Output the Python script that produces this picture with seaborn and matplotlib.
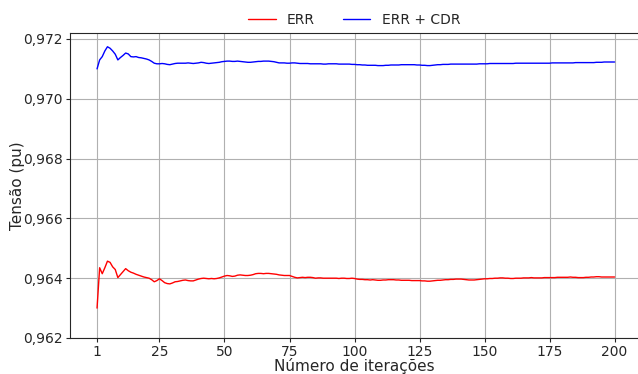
import numpy as np
import pandas as pd
import matplotlib
matplotlib.use("Agg")
import matplotlib.pyplot as plt
from matplotlib.ticker import FuncFormatter
import seaborn as sns

# Tensão na barra ao longo das iterações
err = [
    0.96300, 0.96435, 0.96415, 0.96435, 0.96457, 0.96453, 0.96438, 0.96429, 0.96402, 0.96412,
    0.96422, 0.96432, 0.96425, 0.96420, 0.96417, 0.96413, 0.96410, 0.96407, 0.96404, 0.96402,
    0.96400, 0.96395, 0.96388, 0.96392, 0.96398, 0.96392, 0.96385, 0.96382, 0.96381, 0.96384,
    0.96388, 0.96389, 0.96391, 0.96393, 0.96394, 0.96392, 0.96391, 0.96391, 0.96394, 0.96397,
    0.96399, 0.96400, 0.96399, 0.96398, 0.96399, 0.96398, 0.96399, 0.96401, 0.96404, 0.96407,
    0.96409, 0.96408, 0.96406, 0.96407, 0.96410, 0.96411, 0.96410, 0.96409, 0.96409, 0.96410,
    0.96412, 0.96415, 0.96416, 0.96416, 0.96415, 0.96416, 0.96416, 0.96415, 0.96414, 0.96413,
    0.96411, 0.96410, 0.96409, 0.96409, 0.96409, 0.96406, 0.96403, 0.96401, 0.96402, 0.96403,
    0.96402, 0.96403, 0.96403, 0.96402, 0.96400, 0.96401, 0.96401, 0.96400, 0.96400, 0.96400,
    0.96400, 0.96400, 0.96400, 0.96399, 0.96400, 0.96400, 0.96399, 0.96399, 0.96400, 0.96399,
    0.96397, 0.96396, 0.96396, 0.96395, 0.96395, 0.96394, 0.96395, 0.96394, 0.96393, 0.96393,
    0.96394, 0.96394, 0.96395, 0.96395, 0.96395, 0.96394, 0.96394, 0.96393, 0.96393, 0.96393,
    0.96393, 0.96392, 0.96392, 0.96392, 0.96392, 0.96391, 0.96391, 0.96390, 0.96390, 0.96391,
    0.96392, 0.96393, 0.96393, 0.96394, 0.96395, 0.96395, 0.96396, 0.96396, 0.96397, 0.96397,
    0.96397, 0.96396, 0.96395, 0.96394, 0.96394, 0.96394, 0.96395, 0.96396, 0.96397, 0.96398,
    0.96398, 0.96399, 0.96399, 0.96400, 0.96400, 0.96401, 0.96401, 0.96400, 0.96400, 0.96399,
    0.96399, 0.96400, 0.96400, 0.96400, 0.96401, 0.96401, 0.96401, 0.96402, 0.96401, 0.96401,
    0.96401, 0.96401, 0.96402, 0.96402, 0.96402, 0.96402, 0.96402, 0.96403, 0.96403, 0.96403,
    0.96403, 0.96403, 0.96404, 0.96403, 0.96403, 0.96402, 0.96402, 0.96402, 0.96403, 0.96403,
    0.96404, 0.96404, 0.96405, 0.96405, 0.96404, 0.96404, 0.96404, 0.96404, 0.96404, 0.96404,
]

err_cdr = [
    0.97100, 0.97130, 0.97141, 0.97160, 0.97174, 0.97169, 0.97160, 0.97149, 0.97130, 0.97138,
    0.97145, 0.97153, 0.97150, 0.97141, 0.97140, 0.97141, 0.97138, 0.97137, 0.97135, 0.97133,
    0.97130, 0.97125, 0.97119, 0.97117, 0.97117, 0.97118, 0.97117, 0.97115, 0.97114, 0.97116,
    0.97118, 0.97119, 0.97119, 0.97119, 0.97119, 0.97120, 0.97119, 0.97118, 0.97119, 0.97120,
    0.97122, 0.97121, 0.97119, 0.97118, 0.97119, 0.97120, 0.97121, 0.97122, 0.97124, 0.97125,
    0.97126, 0.97126, 0.97125, 0.97125, 0.97126, 0.97125, 0.97124, 0.97123, 0.97122, 0.97122,
    0.97123, 0.97124, 0.97125, 0.97125, 0.97126, 0.97126, 0.97126, 0.97125, 0.97124, 0.97122,
    0.97120, 0.97120, 0.97120, 0.97119, 0.97119, 0.97120, 0.97120, 0.97119, 0.97118, 0.97118,
    0.97118, 0.97118, 0.97117, 0.97117, 0.97117, 0.97117, 0.97117, 0.97116, 0.97116, 0.97117,
    0.97117, 0.97117, 0.97117, 0.97116, 0.97116, 0.97116, 0.97116, 0.97116, 0.97115, 0.97115,
    0.97114, 0.97114, 0.97113, 0.97113, 0.97112, 0.97112, 0.97112, 0.97112, 0.97111, 0.97111,
    0.97111, 0.97112, 0.97112, 0.97113, 0.97113, 0.97113, 0.97113, 0.97114, 0.97114, 0.97114,
    0.97114, 0.97114, 0.97114, 0.97113, 0.97113, 0.97112, 0.97112, 0.97111, 0.97111, 0.97112,
    0.97113, 0.97114, 0.97114, 0.97115, 0.97115, 0.97115, 0.97116, 0.97116, 0.97116, 0.97116,
    0.97116, 0.97116, 0.97116, 0.97116, 0.97116, 0.97116, 0.97116, 0.97117, 0.97117, 0.97117,
    0.97117, 0.97118, 0.97118, 0.97118, 0.97118, 0.97118, 0.97118, 0.97118, 0.97118, 0.97118,
    0.97118, 0.97119, 0.97119, 0.97119, 0.97119, 0.97119, 0.97119, 0.97119, 0.97119, 0.97119,
    0.97119, 0.97119, 0.97119, 0.97119, 0.97119, 0.97120, 0.97120, 0.97120, 0.97120, 0.97120,
    0.97120, 0.97120, 0.97120, 0.97120, 0.97121, 0.97121, 0.97121, 0.97121, 0.97121, 0.97121,
    0.97121, 0.97121, 0.97122, 0.97122, 0.97122, 0.97123, 0.97123, 0.97123, 0.97123, 0.97123,
]

iterations = list(range(1, len(err) + 1))
series_names = ["ERR", "ERR + CDR"]
series_colors = ["red", "blue"]
x_ticks = [1, 25, 50, 75, 100, 125, 150, 175, 200]
y_ticks = [0.962, 0.964, 0.966, 0.968, 0.970, 0.972]

df = pd.DataFrame({
    "Iteração": iterations * 2,
    "Tensão": err + err_cdr,
    "Série": [series_names[0]] * len(err) + [series_names[1]] * len(err_cdr),
})

sns.set_style("ticks", {"axes.grid": True, "grid.color": "#b0b0b0",
                        "axes.edgecolor": "#262626"})
plt.rcParams["font.family"] = ["DejaVu Sans"]

fig = plt.figure(figsize=(6.38, 3.74), dpi=100)
ax = fig.add_axes([70 / 638, 1 - 338 / 374, (638 - 70) / 638, (338 - 32.7) / 374])

sns.lineplot(data=df, x="Iteração", y="Tensão", hue="Série",
             palette=dict(zip(series_names, series_colors)),
             linewidth=1.0, ax=ax)

ax.set_xlim(-9.4, 209.0)
ax.set_ylim(0.962, 0.97221)
ax.set_xticks(x_ticks)
ax.set_yticks(y_ticks)
ax.yaxis.set_major_formatter(FuncFormatter(lambda v, p: f"{v:.3f}".replace(".", ",")))
ax.tick_params(labelsize=10, length=3, width=0.8, pad=2)
ax.grid(True, color="#b0b0b0", linewidth=0.8)
ax.set_xlabel("Número de iterações", fontsize=11, labelpad=-0.5)
ax.set_ylabel("Tensão (pu)", fontsize=11, labelpad=-1)
ax.spines["right"].set_visible(False)

leg = ax.legend(loc="lower center", bbox_to_anchor=(0.5, 1.0), ncol=2,
                frameon=False, fontsize=10, borderaxespad=0.0)

fig.savefig("out.png", dpi=100)
